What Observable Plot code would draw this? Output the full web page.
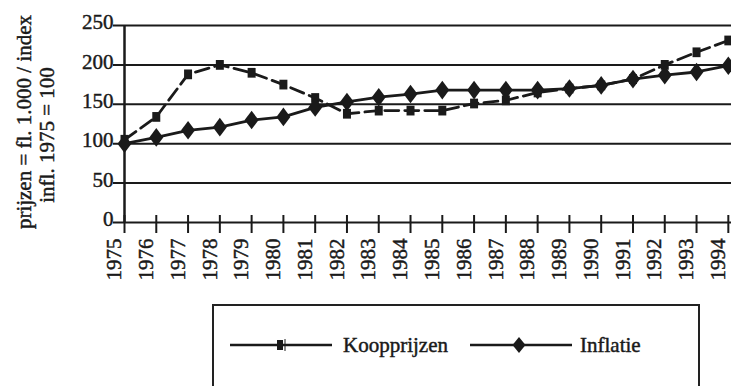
<!DOCTYPE html>
<html><head><meta charset="utf-8">
<script src="https://cdn.jsdelivr.net/npm/d3@7"></script>
<script src="https://cdn.jsdelivr.net/npm/@observablehq/plot@0.6"></script>
<style>
body{margin:0;background:#fff;font-family:"Liberation Serif",serif;overflow:hidden}
#chart svg{display:block}
#legend{position:absolute;left:212px;top:304px;width:488px;height:120px;border:2px solid #222;box-sizing:border-box;background:#fff}
#legend svg{display:block}
</style></head><body>
<div id="chart"></div>
<div id="legend"></div>
<script>
const years = [1975,1976,1977,1978,1979,1980,1981,1982,1983,1984,1985,1986,1987,1988,1989,1990,1991,1992,1993,1994];
const koopprijzen = [105,134,188,200,190,175,158,138,142,142,142,151,155,165,170,174,182,200,216,231];
const inflatie = [100,108,117,121,130,134,146,153,159,163,168,168,168,168,170,174,182,187,191,199];
const yTicks = [0,50,100,150,200,250];
const seriesNames = ["Koopprijzen","Inflatie"];
const axisTitle = ["prijzen = fl. 1.000 / index","infl. 1975 = 100"];

const koopData = years.map((year,i)=>({year, value: koopprijzen[i]}));
const inflData = years.map((year,i)=>({year, value: inflatie[i]}));

const tallDiamond = {draw(ctx, size){
  const h = Math.sqrt(size)*0.5, w = h*0.75;
  ctx.moveTo(0,-h); ctx.lineTo(w,0); ctx.lineTo(0,h); ctx.lineTo(-w,0); ctx.closePath();
}};
const tallSquare = {draw(ctx, size){
  const h = Math.sqrt(size)*0.5, w = h*0.82;
  ctx.rect(-w,-h,2*w,2*h);
}};

const ink = "#1a1a1a";
const txt = {fill: ink, stroke: ink, strokeWidth: 0.45, fontSize: 21};
const chart = Plot.plot({
  width: 731, height: 304,
  marginTop: 25, marginBottom: 82, marginLeft: 124, marginRight: 0,
  x: {domain: [1975, 1994.1], axis: null},
  y: {domain: [0, 250], axis: null},
  style: {fontFamily: "Liberation Serif", fontSize: "21px", color: ink, background: "#fff"},
  marks: [
    Plot.ruleY(yTicks, {y: d=>d, stroke: ink, strokeWidth: 2, insetLeft: -11}),
    Plot.ruleX([years[0]], {x: d=>d, stroke: ink, strokeWidth: 2.5}),
    Plot.ruleX(years, {x: d=>d, stroke: ink, strokeWidth: 2, insetTop: 190, insetBottom: -11}),
    Plot.text(yTicks, {x: () => years[0], y: d=>d, text: d=>String(d), textAnchor: "end", dx: -11, dy: -3, ...txt}),
    Plot.text(years, {x: d=>d, y: () => 0, text: d=>String(d), rotate: -90, textAnchor: "end", dx: -10, dy: 16, ...txt}),
    Plot.line(koopData, {x: "year", y: "value", stroke: ink, strokeWidth: 2.8, strokeDasharray: "14,6"}),
    Plot.line(inflData, {x: "year", y: "value", stroke: ink, strokeWidth: 2.8}),
    Plot.dot(koopData, {x: "year", y: "value", symbol: tallSquare, r: 5.5, fill: ink, stroke: "none"}),
    Plot.dot(inflData, {x: "year", y: "value", symbol: tallDiamond, r: 10.5, fill: ink, stroke: "none"}),
    Plot.text([axisTitle[0]], {text: d=>d, frameAnchor: "left", textAnchor: "middle", rotate: -90, dx: -100, dy: -2, ...txt}),
    Plot.text([axisTitle[1]], {text: d=>d, frameAnchor: "left", textAnchor: "middle", rotate: -90, dx: -77, dy: 11, ...txt})
  ]
});
document.getElementById("chart").appendChild(chart);

// legend
const lg = d3.select("#legend").append("svg").attr("width", 484).attr("height", 100)
  .style("font-family", "Liberation Serif").style("font-size", "21px");
const ly = 39;
lg.append("line").attr("x1",16).attr("x2",118).attr("y1",ly).attr("y2",ly).attr("stroke",ink).attr("stroke-width",2.5);
lg.append("rect").attr("x",63).attr("y",ly-5).attr("width",6).attr("height",10).attr("fill",ink);
lg.append("line").attr("x1",71).attr("x2",71).attr("y1",ly-6).attr("y2",ly+6).attr("stroke",ink).attr("stroke-width",1);
lg.append("text").attr("x",129).attr("y",ly).attr("dy","0.32em").attr("fill",ink).attr("stroke",ink).attr("stroke-width",0.45).text(seriesNames[0]);
lg.append("line").attr("x1",256).attr("x2",358).attr("y1",ly).attr("y2",ly).attr("stroke",ink).attr("stroke-width",2.5);
lg.append("path").attr("transform",`translate(305,${ly})`).attr("d","M0,-8L6.5,0L0,8L-6.5,0Z").attr("fill",ink);
lg.append("text").attr("x",366).attr("y",ly).attr("dy","0.32em").attr("fill",ink).attr("stroke",ink).attr("stroke-width",0.45).text(seriesNames[1]);
</script>
</body></html>
